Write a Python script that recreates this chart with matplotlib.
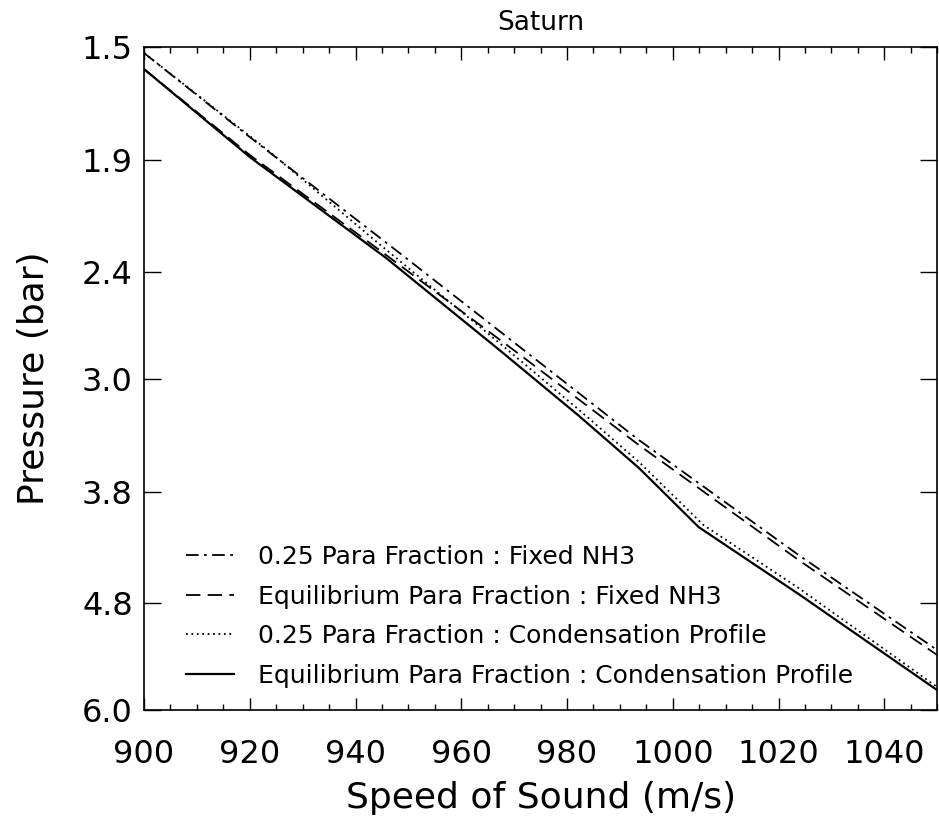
import matplotlib
matplotlib.use('Agg')
import matplotlib.pyplot as plt
from matplotlib.ticker import FixedLocator, MultipleLocator, NullLocator, FixedFormatter

# speed of sound (m/s) and pressure (bar)
x_dashdot = [900, 920, 948.3, 993.6, 1023.8, 1050]
p_dashdot = [1.519, 1.811, 2.307, 3.412, 4.339, 5.292]

x_dashed = [900, 920, 944.5, 970.9, 993.6, 1023.8, 1050]
p_dashed = [1.571, 1.880, 2.293, 2.850, 3.448, 4.385, 5.348]

x_dotted = [900, 923.8, 944.5, 967.2, 982.3, 993.6, 1005.8, 1023.8, 1050]
p_dotted = [1.519, 1.868, 2.265, 2.785, 3.204, 3.572, 4.075, 4.649, 5.718]

x_solid = [900, 920, 945.8, 967.2, 982.3, 993.6, 1004.9, 1023.8, 1050]
p_solid = [1.571, 1.888, 2.332, 2.826, 3.245, 3.617, 4.093, 4.708, 5.755]

labels = [
    '0.25 Para Fraction : Fixed NH3',
    'Equilibrium Para Fraction : Fixed NH3',
    '0.25 Para Fraction : Condensation Profile',
    'Equilibrium Para Fraction : Condensation Profile',
]

p_ticks = [1.5, 1.9, 2.4, 3.0, 3.8, 4.8, 6.0]
p_ticklabels = ['1.5', '1.9', '2.4', '3.0', '3.8', '4.8', '6.0']

plt.rcParams['font.family'] = ['DejaVu Sans']

fig = plt.figure(figsize=(9.39, 8.26), dpi=100)
ax = fig.add_axes([0.1534, 0.1404, 0.8446, 0.8027])

ax.plot(x_dashdot, p_dashdot, color='black', lw=1.3, dashes=(7, 3, 1.5, 3), label=labels[0])
ax.plot(x_dashed, p_dashed, color='black', lw=1.3, dashes=(8, 4), label=labels[1])
ax.plot(x_dotted, p_dotted, color='black', lw=1.3, dashes=(1, 2), label=labels[2])
ax.plot(x_solid, p_solid, color='black', lw=1.6, label=labels[3])

ax.set_yscale('log')
ax.set_ylim(6.0, 1.5)
ax.set_xlim(900, 1050)

ax.yaxis.set_major_locator(FixedLocator(p_ticks))
ax.yaxis.set_major_formatter(FixedFormatter(p_ticklabels))
ax.yaxis.set_minor_locator(NullLocator())
ax.xaxis.set_major_locator(MultipleLocator(20))
ax.xaxis.set_minor_locator(MultipleLocator(5))

ax.tick_params(axis='x', which='major', direction='in', length=9, width=1,
               top=True, labelsize=23, pad=21)
ax.tick_params(axis='x', which='minor', direction='in', length=4.5, width=1, top=True)
ax.tick_params(axis='y', which='major', direction='in', length=12, width=1,
               right=True, labelsize=23, pad=8)
for s in ax.spines.values():
    s.set_linewidth(1.2)

ax.set_xlabel('Speed of Sound (m/s)', fontsize=26, labelpad=8)
ax.set_ylabel('Pressure (bar)', fontsize=26, labelpad=22)
ax.set_title('Saturn', fontsize=19, pad=12)

ax.legend(loc='lower left', bbox_to_anchor=(0.025, 0.0), frameon=False,
          fontsize=18, handlelength=1.9, handletextpad=0.95, labelspacing=0.62)

fig.savefig('out.png', dpi=100)
